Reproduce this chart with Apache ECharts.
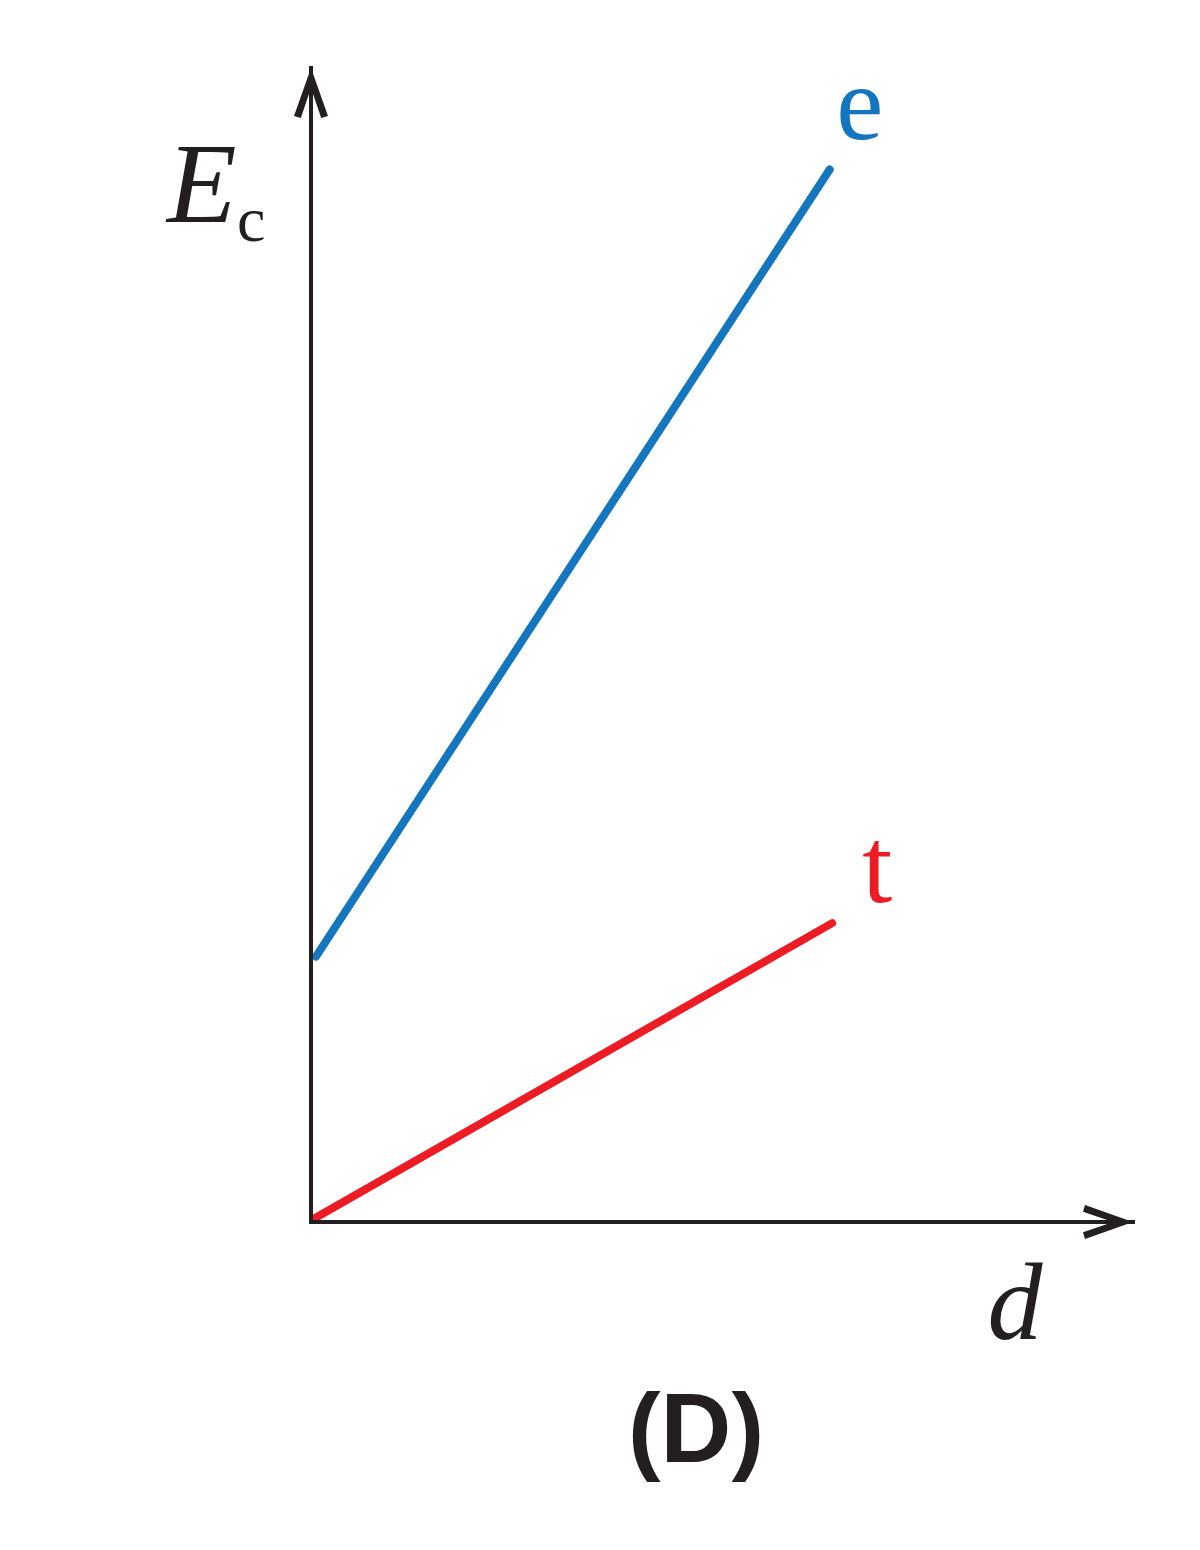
<!DOCTYPE html>
<html>
<head>
<meta charset="utf-8">
<script src="https://cdn.jsdelivr.net/npm/echarts@6/dist/echarts.min.js"></script>
<style>
html,body{margin:0;padding:0;background:#fff;}
#chart{width:1200px;height:1550px;}
</style>
</head>
<body>
<div id="chart"></div>
<script>
// Data (arbitrary units, axes 0..10)
const seriesNames = ['e', 't'];
const eLine = [[0.06, 2.30], [6.31, 9.12]];
const tLine = [[0.04, 0.03], [6.34, 2.59]];
const axisX = {min: 0, max: 10, name: 'd'};
const axisY = {min: 0, max: 10, name: 'E', sub: 'c'};
const panelLabel = '(D)';

const BLACK = '#231f20';
const BLUE = '#1476be';
const RED = '#ed1c24';
const ARROW = 'path://M17,0 L34,48 L27.2,50 L17,20 L6.8,50 L0,48 Z';

const chart = echarts.init(document.getElementById('chart'), null, {renderer: 'canvas'});
const axisCommon = {
  type: 'value',
  axisLine: {
    show: true,
    symbol: ['none', ARROW],
    symbolSize: [34, 50],
    symbolOffset: [0, -25],
    lineStyle: {color: BLACK, width: 4, cap: 'square'}
  },
  axisTick: {show: false},
  axisLabel: {show: false},
  splitLine: {show: false},
  z: 3
};
chart.setOption({
  animation: false,
  backgroundColor: '#fff',
  grid: {left: 311, top: 68, right: 67, bottom: 328, containLabel: false},
  xAxis: Object.assign({}, axisCommon, {min: axisX.min, max: axisX.max}),
  yAxis: Object.assign({}, axisCommon, {min: axisY.min, max: axisY.max}),
  series: [
    {
      name: seriesNames[0], type: 'line', data: eLine, showSymbol: false, symbol: 'none',
      lineStyle: {color: BLUE, width: 8, cap: 'round'}, z: 2,
      endLabel: {show: true, formatter: seriesNames[0], color: BLUE,
        fontFamily: 'Liberation Serif', fontSize: 106, align: 'center', verticalAlign: 'middle',
        offset: [30, -58], distance: 0}
    },
    {
      name: seriesNames[1], type: 'line', data: tLine, showSymbol: false, symbol: 'none',
      lineStyle: {color: RED, width: 8, cap: 'round'}, z: 2,
      endLabel: {show: true, formatter: seriesNames[1], color: RED,
        fontFamily: 'Liberation Serif', fontSize: 108, align: 'center', verticalAlign: 'middle',
        offset: [45, -49], distance: 0}
    }
  ],
  graphic: [
    {type: 'text', x: 167, y: 192, style: {text: axisY.name, fill: BLACK,
      font: 'italic 114px "Liberation Serif"', align: 'left', verticalAlign: 'middle'}},
    {type: 'text', x: 237, y: 224, style: {text: axisY.sub, fill: BLACK,
      font: '64px "Liberation Serif"', align: 'left', verticalAlign: 'middle'}},
    {type: 'text', x: 1015, y: 1310, style: {text: axisX.name, fill: BLACK,
      font: 'italic 110px "Liberation Serif"', align: 'center', verticalAlign: 'middle'}},
    {type: 'text', x: 696, y: 1435, style: {text: panelLabel, fill: BLACK,
      font: 'bold 98px "Liberation Sans"', align: 'center', verticalAlign: 'middle'}},
    {type: 'rect', shape: {x: 0, y: 1485, width: 1200, height: 65}, style: {fill: '#fff'}, z: 100}
  ]
});
</script>
</body>
</html>
